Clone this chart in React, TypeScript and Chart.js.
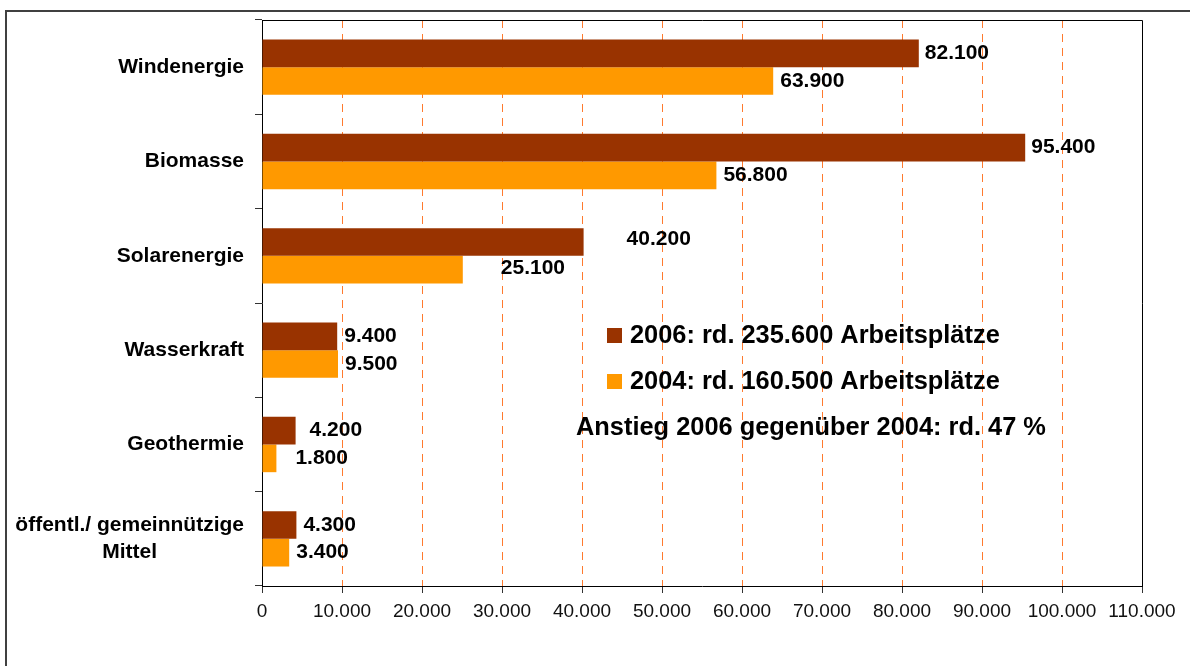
import React, { useEffect, useRef } from "react";
import { Chart, registerables } from "chart.js";

Chart.register(...registerables);

const categories: (string | string[])[] = [
  "Windenergie",
  "Biomasse",
  "Solarenergie",
  "Wasserkraft",
  "Geothermie",
  ["öffentl./ gemeinnützige", "Mittel"],
];
const series2006Label = "2006: rd. 235.600 Arbeitsplätze";
const series2004Label = "2004: rd. 160.500 Arbeitsplätze";
const values2006 = [82100, 95400, 40200, 9400, 4200, 4300];
const values2004 = [63900, 56800, 25100, 9500, 1800, 3400];
const noteText = "Anstieg 2006 gegenüber 2004: rd. 47 %";
const xMin = 0;
const xMax = 110000;
const xStep = 10000;

// label placement offsets (styling, px)
const labelDx2006 = [6, 6, 43, 7, 14, 7];
const labelDx2004 = [7, 7, 38, 7, 19, 7];
const labelDy2006 = [0, 0, -3, 0, 0, 0];
const labelDy2004 = [0, 0, -1, 0, 0, 0];

const COLOR_2006 = "#993300";
const COLOR_2004 = "#FF9900";
const GRID_COLOR = "#FF7A2E";
const FONT = '"Liberation Sans", Arial, sans-serif';

const fmt = (n: number) =>
  String(Math.round(n)).replace(/\B(?=(\d{3})+(?!\d))/g, ".");

const overlayPlugin = {
  id: "overlay",
  afterDraw(chart: any) {
    const { ctx, chartArea } = chart;
    const yScale = chart.scales.y;
    ctx.save();
    // plot border (top and right)
    ctx.strokeStyle = "#000";
    ctx.lineWidth = 1;
    ctx.beginPath();
    ctx.moveTo(chartArea.left, Math.round(chartArea.top) + 0.5);
    ctx.lineTo(Math.round(chartArea.right) + 0.5, Math.round(chartArea.top) + 0.5);
    ctx.lineTo(Math.round(chartArea.right) + 0.5, chartArea.bottom);
    ctx.stroke();

    // category labels
    ctx.fillStyle = "#000";
    ctx.font = `bold 21px ${FONT}`;
    ctx.textBaseline = "middle";
    const rightX = chartArea.left - 18;
    categories.forEach((lab, i) => {
      const cy = yScale.getPixelForTick(i);
      const lines = Array.isArray(lab) ? lab : [lab];
      if (lines.length === 1) {
        ctx.textAlign = "right";
        ctx.fillText(lines[0], rightX, cy);
      } else {
        const widest = Math.max(...lines.map((l) => ctx.measureText(l).width));
        const cx = rightX - widest / 2;
        const lh = 27;
        const y0 = cy - ((lines.length - 1) * lh) / 2;
        ctx.textAlign = "center";
        lines.forEach((l, k) => ctx.fillText(l, cx, y0 + k * lh));
      }
    });

    // value labels
    ctx.textAlign = "left";
    ctx.font = `bold 21px ${FONT}`;
    const dxs = [labelDx2006, labelDx2004];
    const dys = [labelDy2006, labelDy2004];
    chart.data.datasets.forEach((ds: any, di: number) => {
      const meta = chart.getDatasetMeta(di);
      meta.data.forEach((el: any, i: number) => {
        ctx.fillText(fmt(ds.data[i]), el.x + dxs[di][i], el.y + dys[di][i]);
      });
    });

    // legend
    ctx.font = `bold 25.4px ${FONT}`;
    const legendItems = [
      { label: series2006Label, color: COLOR_2006, y: 336 },
      { label: series2004Label, color: COLOR_2004, y: 382 },
    ];
    legendItems.forEach((it) => {
      ctx.fillStyle = it.color;
      ctx.fillRect(607, it.y - 8, 15, 15);
      ctx.fillStyle = "#000";
      ctx.fillText(it.label, 630, it.y);
    });
    ctx.fillText(noteText, 576, 428);
    ctx.restore();
  },
};

export default function App() {
  const canvasRef = useRef<HTMLCanvasElement | null>(null);

  useEffect(() => {
    const canvas = canvasRef.current;
    if (!canvas) return;
    const chart = new Chart(canvas, {
      type: "bar",
      data: {
        labels: categories.map((c) => (Array.isArray(c) ? c.join(" ") : c)),
        datasets: [
          {
            label: series2006Label,
            data: values2006,
            backgroundColor: COLOR_2006,
            borderWidth: 0,
            barPercentage: 1,
            categoryPercentage: 0.587,
          },
          {
            label: series2004Label,
            data: values2004,
            backgroundColor: COLOR_2004,
            borderWidth: 0,
            barPercentage: 1,
            categoryPercentage: 0.587,
          },
        ],
      },
      options: {
        indexAxis: "y",
        responsive: false,
        animation: false,
        layout: { padding: { top: 20, right: 48, left: 0, bottom: 0 } },
        plugins: {
          legend: { display: false },
          tooltip: { enabled: false },
        },
        scales: {
          x: {
            type: "linear",
            min: xMin,
            max: xMax,
            afterFit: (scale: any) => {
              scale.height = 80;
            },
            ticks: {
              stepSize: xStep,
              color: "#111",
              padding: 7,
              maxRotation: 0,
              font: { family: FONT, size: 19 },
              callback: (v: any) => fmt(Number(v)),
            },
            grid: {
              color: (c: any) =>
                c.tick && (c.tick.value === xMin || c.tick.value === xMax)
                  ? "rgba(0,0,0,0)"
                  : GRID_COLOR,
              lineWidth: 1,
              tickColor: "#333",
              tickLength: 7,
              drawTicks: true,
            },
            border: { display: true, color: "#000", width: 1, dash: [8, 6] },
          },
          y: {
            type: "category",
            afterFit: (scale: any) => {
              scale.width = 262;
            },
            ticks: { display: false },
            grid: {
              offset: true,
              drawOnChartArea: false,
              drawTicks: true,
              tickLength: 7,
              tickColor: "#333",
              color: "#333",
            },
            border: { display: true, color: "#000", width: 1 },
          },
        },
      },
      plugins: [overlayPlugin],
    });
    return () => chart.destroy();
  }, []);

  return (
    <div
      style={{
        position: "fixed",
        left: 0,
        top: 0,
        width: 1190,
        height: 666,
        overflow: "hidden",
        background: "#fff",
      }}
    >
      <div
        style={{
          position: "absolute",
          left: 5,
          top: 10,
          width: 1300,
          height: 800,
          border: "2px solid #404040",
        }}
      />
      <canvas
        ref={canvasRef}
        width={1190}
        height={666}
        style={{ position: "absolute", left: 0, top: 0 }}
      />
    </div>
  );
}
